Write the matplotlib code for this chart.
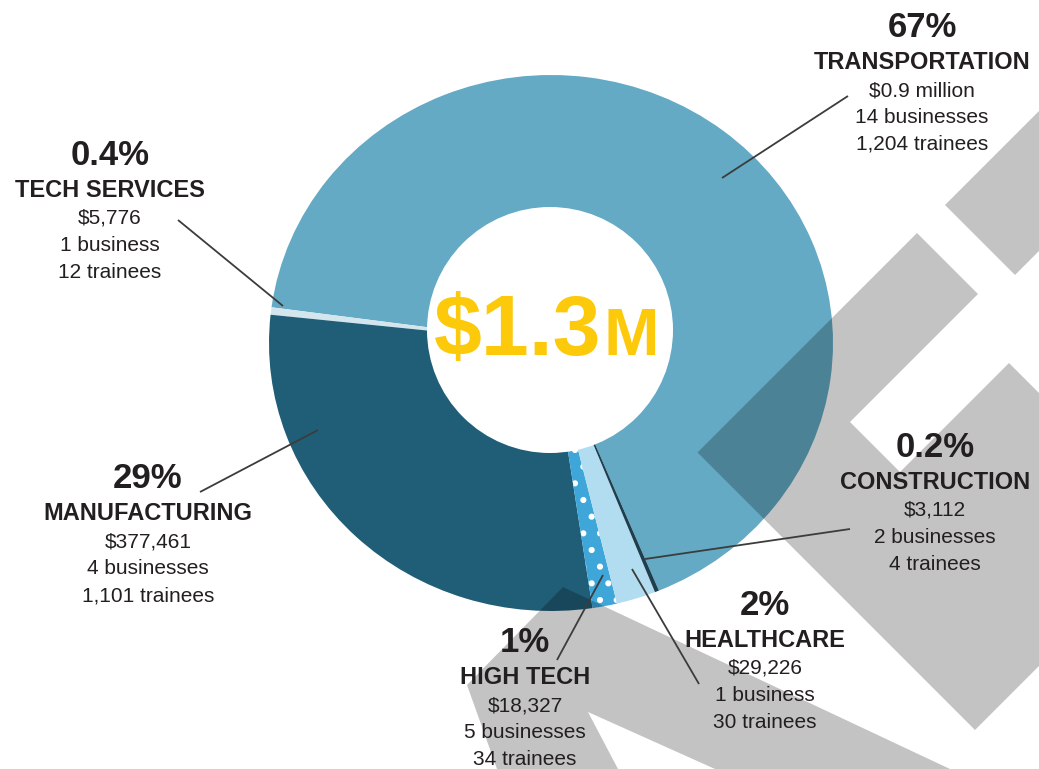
import matplotlib
matplotlib.use("Agg")
import matplotlib.pyplot as plt
from matplotlib.patches import Polygon, Circle

W, H = 1039, 769

# sector data
sectors = ['TRANSPORTATION', 'TECH SERVICES', 'MANUFACTURING',
           'HIGH TECH', 'HEALTHCARE', 'CONSTRUCTION']
funding = [866098, 5776, 377461, 18327, 29226, 3112]
pct_labels = ['67%', '0.4%', '29%', '1%', '2%', '0.2%']
amount_labels = ['$0.9 million', '$5,776', '$377,461', '$18,327', '$29,226', '$3,112']
business_labels = ['14 businesses', '1 business', '4 businesses',
                   '5 businesses', '1 business', '2 businesses']
trainee_labels = ['1,204 trainees', '12 trainees', '1,101 trainees',
                  '34 trainees', '30 trainees', '4 trainees']
total_label = '$1.3'
total_unit = 'M'

slice_colors = ['#64aac4', '#d3e6ee', '#205e78', '#3ea6d8', '#b2ddf1', '#1d3f4f']
TEXT = '#231f20'
LEADER = '#3c3c3c'

# layout in pixels (y down): baseline of the percent line for each label
label_pos = [(922, 37), (110, 165), (148, 488), (525, 652), (765, 615), (935, 457)]
line_offsets = [0, 32, 59, 86, 113]
leaders = [((722, 178), (848, 96)), ((178, 220), (283, 306)),
           ((200, 492), (318, 430)), ((603, 575), (557, 660)),
           ((632, 569), (699, 684)), ((645, 559), (850, 529))]

# background "K" shapes
grey_shapes = [
    [(945, 205), (1015, 275), (1100, 190), (1100, 50)],
    [(697.5, 452.5), (917, 233), (978, 294), (850, 422), (900, 472),
     (1009, 363), (1100, 454), (1100, 605), (975, 730)],
    [(563, 587), (467, 685), (497, 769), (618, 769), (588, 712),
     (715, 769), (950, 769)],
]

plt.rcParams['hatch.color'] = 'white'
plt.rcParams['hatch.linewidth'] = 2.0

fig = plt.figure(figsize=(W / 100, H / 100), dpi=100)
fig.patch.set_facecolor('white')

# donut (slightly elliptical in the source image)
cx, cy, rx, ry = 551, 343, 282, 268
ax_pie = fig.add_axes([(cx - rx) / W, 1 - (cy + ry) / H, 2 * rx / W, 2 * ry / H])
ax_pie.set_zorder(0)
wedges, _ = ax_pie.pie(funding, colors=slice_colors, startangle=-67.5,
                       counterclock=True, radius=1,
                       wedgeprops=dict(linewidth=0))
wedges[3].set_hatch('.')
wedges[3].set_edgecolor('white')
wedges[3].set_linewidth(0)
ax_pie.set_aspect('auto')
ax_pie.set_xlim(-1, 1)
ax_pie.set_ylim(-1, 1)
ax_pie.axis('off')

ax = fig.add_axes([0, 0, 1, 1])
ax.set_zorder(1)
ax.set_xlim(0, W)
ax.set_ylim(H, 0)
ax.axis('off')

ax.add_patch(Circle((550, 330), 123, facecolor='white', edgecolor='none', zorder=1))

for pts in grey_shapes:
    ax.add_patch(Polygon(pts, closed=True, facecolor='black', alpha=0.235,
                         edgecolor='none', zorder=2))

for (x0, y0), (x1, y1) in leaders:
    ax.plot([x0, x1], [y0, y1], color=LEADER, lw=1.3, zorder=3,
            solid_capstyle='butt')

font = ['Liberation Sans', 'DejaVu Sans']
for i, (x, y) in enumerate(label_pos):
    lines = [(pct_labels[i], 25, 'bold'), (sectors[i], 17, 'bold'),
             (amount_labels[i], 15, 'normal'), (business_labels[i], 15, 'normal'),
             (trainee_labels[i], 15, 'normal')]
    for (txt, size, weight), dy in zip(lines, line_offsets):
        ax.text(x, y + dy, txt, ha='center', va='baseline', fontsize=size,
                fontweight=weight, color=TEXT, family=font, zorder=4)

ax.text(601, 355, total_label, ha='right', va='baseline', fontsize=62,
        fontweight='bold', color='#fcc90b', family=font, zorder=4)
ax.text(604, 355, total_unit, ha='left', va='baseline', fontsize=48,
        fontweight='bold', color='#fcc90b', family=font, zorder=4)

fig.savefig('out.png', dpi=100, facecolor='white')
